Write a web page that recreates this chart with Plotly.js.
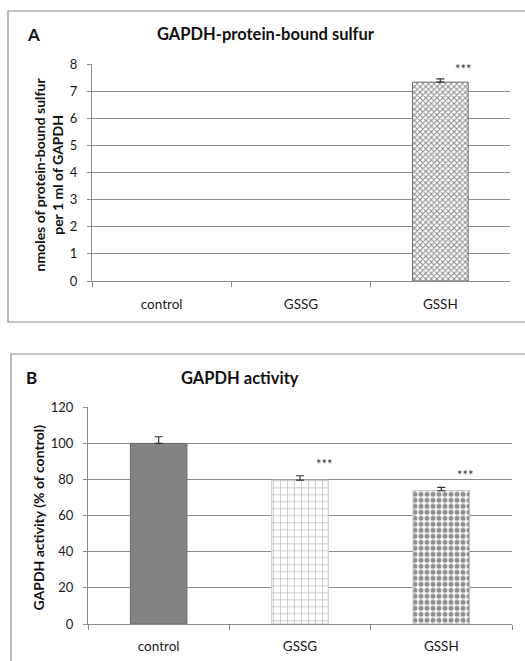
<!DOCTYPE html>
<html>
<head>
<meta charset="utf-8">
<script src="https://cdn.plot.ly/plotly-3.0.1.min.js"></script>
<style>html,body{margin:0;padding:0;background:#fff}#chart{width:525px;height:661px}</style>
</head>
<body>
<div id="chart"></div>
<script>
// ---- data ----
const categories = ["control", "GSSG", "GSSH"];
const sulfurValues = [null, null, 7.33];
const sulfurErrors = [0, 0, 0.12];
const activityValues = [100, 79.7, 73.8];
const activityErrors = [3.7, 2.4, 1.9];
const sulfurStars = [null, null, "***"];
const sulfurStarY = [null, null, 7.8];
const activityStars = [null, "***", "***"];
const activityStarY = [null, 88.4, 82.5];
const yTicksA = [0, 1, 2, 3, 4, 5, 6, 7, 8];
const yTicksB = [0, 20, 40, 60, 80, 100, 120];

const W = 525, H = 661;
const px = v => v / W;
const py = v => 1 - v / H;
const FONT = "Lato, 'Open Sans', sans-serif";
const GRID = "#8c8c8c";

const traceA = {
  type: "bar", x: categories, y: sulfurValues, xaxis: "x", yaxis: "y",
  marker: {
    color: "#ffffff",
    line: {color: "#6e6e6e", width: 1},
    pattern: {shape: "x", fgcolor: "#8a8a8a", bgcolor: "#ffffff", size: 4, solidity: 0.45}
  },
  error_y: {type: "data", symmetric: false, array: sulfurErrors, arrayminus: [0,0,0],
            color: "#333", thickness: 1.2, width: 4},
  hoverinfo: "skip", showlegend: false
};

// panel B styles, one trace per category so each bar can carry its own fill pattern
const stylesB = [
  {color: "#838383", line: "#6a6a6a", pattern: null},
  {color: "#ffffff", line: "#c4c4c4", pattern: {shape: "+", fgcolor: "#b8b8b8", bgcolor: "#ffffff", size: 7, solidity: 0.18}},
  {color: "#ffffff", line: "#bdbdbd", pattern: {shape: ".", fgcolor: "#8f8f8f", bgcolor: "#ffffff", size: 6, solidity: 0.55}}
];
const tracesB = categories.map((c, i) => {
  const m = {color: stylesB[i].color, line: {color: stylesB[i].line, width: 1}};
  if (stylesB[i].pattern) m.pattern = stylesB[i].pattern;
  return {
    type: "bar", x: [c], y: [activityValues[i]], xaxis: "x2", yaxis: "y2",
    offsetgroup: "b", marker: m,
    error_y: {type: "data", symmetric: false, array: [activityErrors[i]], arrayminus: [0],
              color: "#333", thickness: 1.2, width: 4},
    hoverinfo: "skip", showlegend: false
  };
});

const annotations = [];
function txt(x, y, text, size, bold, extra) {
  annotations.push(Object.assign({
    xref: "paper", yref: "paper", x: px(x), y: py(y), xanchor: "center", yanchor: "middle",
    showarrow: false, text: bold ? "<b>" + text + "</b>" : text,
    font: {family: FONT, size: size, color: "#111"}
  }, extra || {}));
}
txt(33, 34, "A", 17, true);
txt(266, 34, "GAPDH-protein-bound sulfur", 16.5, true);
txt(48.5, 175, "nmoles of protein-bound sulfur<br>per 1 ml of GAPDH", 14, true, {textangle: -90});
txt(31.5, 377, "B", 17, true);
txt(240, 378, "GAPDH activity", 16.5, true);
txt(37.5, 518, "GAPDH activity (% of control)", 14, true, {textangle: -90});

categories.forEach((c, i) => {
  if (sulfurStars[i]) annotations.push({xref: "x", yref: "y", x: c, y: sulfurStarY[i], xshift: 23,
    text: sulfurStars[i], showarrow: false, font: {family: FONT, size: 13, color: "#333"}});
  if (activityStars[i]) annotations.push({xref: "x2", yref: "y2", x: c, y: activityStarY[i], xshift: 24,
    text: activityStars[i], showarrow: false, font: {family: FONT, size: 13, color: "#333"}});
});

const axisX = (dom, anchor, standoff) => ({
  domain: dom, anchor: anchor, type: "category", tickson: "boundaries",
  ticks: "outside", ticklen: 5, tickcolor: GRID, showline: true, linecolor: GRID, linewidth: 1,
  showgrid: false, tickfont: {family: FONT, size: 13.5, color: "#1a1a1a"},
  ticklabelstandoff: standoff, fixedrange: true
});
const axisY = (dom, anchor, range, ticks) => ({
  domain: dom, anchor: anchor, range: range, tickvals: ticks, ticktext: ticks.map(String),
  ticks: "outside", ticklen: 4, tickcolor: GRID, showline: true, linecolor: GRID, linewidth: 1,
  showgrid: true, gridcolor: GRID, gridwidth: 1, zeroline: false,
  tickfont: {family: FONT, size: 13, color: "#1a1a1a"}, ticklabelstandoff: 7, fixedrange: true
});

const layout = {
  width: W, height: H, margin: {l: 0, r: 0, t: 0, b: 0},
  paper_bgcolor: "#fff", plot_bgcolor: "#fff",
  bargap: 0.6, showlegend: false,
  font: {family: FONT, color: "#1a1a1a"},
  xaxis: axisX([px(92), px(510)], "y", 11),
  yaxis: axisY([py(281), py(64)], "x", [0, 8], yTicksA),
  xaxis2: axisX([px(88), px(512)], "y2", 10),
  yaxis2: axisY([py(624), py(407.3)], "x2", [0, 120], yTicksB),
  annotations: annotations,
  shapes: [
    {type: "rect", xref: "paper", yref: "paper", x0: px(8), x1: 1.05, y0: py(322), y1: py(11),
     line: {color: "#8a8a8a", width: 1.2}, fillcolor: "rgba(0,0,0,0)", layer: "below"},
    {type: "rect", xref: "paper", yref: "paper", x0: px(11), x1: 1.05, y0: -0.05, y1: py(354),
     line: {color: "#8a8a8a", width: 1.2}, fillcolor: "rgba(0,0,0,0)", layer: "below"}
  ]
};

Plotly.newPlot("chart", [traceA].concat(tracesB), layout, {staticPlot: true, displayModeBar: false});
</script>
</body>
</html>
